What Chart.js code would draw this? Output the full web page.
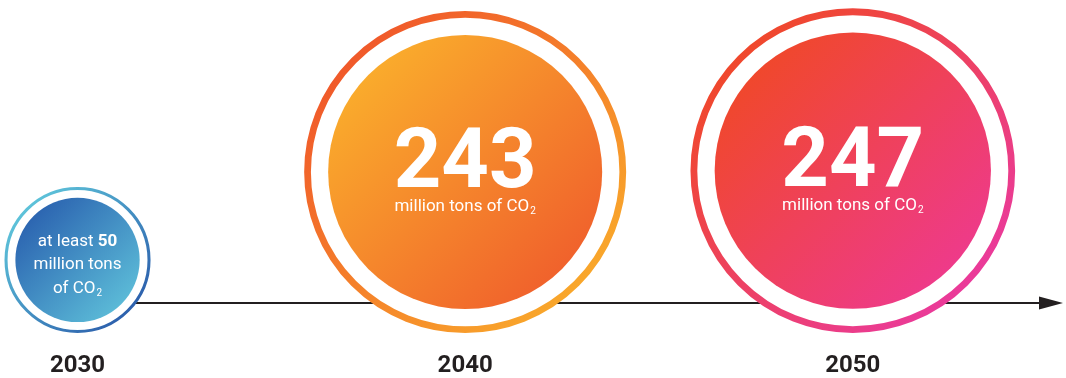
<!DOCTYPE html>
<html>
<head>
<meta charset="utf-8">
<script src="https://cdn.jsdelivr.net/npm/chart.js@4.4.1/dist/chart.umd.min.js"></script>
<style>
  html, body { margin: 0; padding: 0; background: #fff; }
  #wrap { width: 1066px; height: 378px; }
</style>
</head>
<body>
<div id="wrap"><canvas id="timeline"></canvas></div>
<script>
// data
const years = [2030, 2040, 2050];
const values = [50, 243, 247];            // million tons of CO2
const valueLabels = ['50', '243', '247'];

// colours, per circle: [top-left, bottom-right]
const fillColors = [['#2b63b0', '#5cbcd8'], ['#faad2c', '#f0602c'], ['#f0482a', '#ee3a8c']];
const ringColors = [['#5ec4da', '#2c5fac'], ['#f0582a', '#f9a82b'], ['#f0482a', '#ea3a9c']];

const K = 8.79;          // inner radius = K * sqrt(value), area ~ value
const RING = 1.175;      // outer ring radius / inner radius
const LINE_LEVEL = 30;   // timeline height above the circle baseline

function innerR(v) { return K * Math.sqrt(v); }
function outerR(v) { return innerR(v) * RING; }
function ringW(v) { return outerR(v) * 0.042; }

const innerData = years.map((y, i) => ({ x: y, y: outerR(values[i]), r: innerR(values[i]) }));
const ringData = years.map((y, i) => ({ x: y, y: outerR(values[i]), r: outerR(values[i]) - ringW(values[i]) / 2 }));

function grad(context, colors) {
  const raw = context.raw;
  const c = colors[context.dataIndex || 0];
  if (!raw) return c[0];
  const chart = context.chart;
  const x = chart.scales.x.getPixelForValue(raw.x);
  const y = chart.scales.y.getPixelForValue(raw.y);
  if (!isFinite(x) || !isFinite(y)) return c[0];
  const r = raw.r * 0.75;
  const g = chart.ctx.createLinearGradient(x - r, y - r, x + r, y + r);
  g.addColorStop(0, c[0]);
  g.addColorStop(1, c[1]);
  return g;
}

const timelinePlugin = {
  id: 'timeline',
  beforeDatasetsDraw(chart) {
    const ctx = chart.ctx;
    const x0 = chart.scales.x.getPixelForValue(years[0]);
    const x1 = chart.chartArea.right - 3;
    const y = chart.scales.y.getPixelForValue(LINE_LEVEL);
    ctx.save();
    ctx.strokeStyle = '#231f20';
    ctx.lineWidth = 2;
    ctx.beginPath();
    ctx.moveTo(x0, y);
    ctx.lineTo(x1 - 20, y);
    ctx.stroke();
    ctx.fillStyle = '#231f20';
    ctx.beginPath();
    ctx.moveTo(x1, y);
    ctx.lineTo(x1 - 24, y - 6.5);
    ctx.lineTo(x1 - 24, y + 6.5);
    ctx.closePath();
    ctx.fill();
    ctx.restore();
  }
};

function drawCO2(ctx, text, cx, y, size, weight) {
  // "text CO" + subscript 2, centred on cx
  ctx.font = weight + ' ' + size + 'px Roboto';
  const w1 = ctx.measureText(text).width;
  ctx.font = weight + ' ' + Math.round(size * 0.6) + 'px Roboto';
  const w2 = ctx.measureText('2').width;
  const left = cx - (w1 + w2 + 1) / 2;
  ctx.textAlign = 'left';
  ctx.font = weight + ' ' + size + 'px Roboto';
  ctx.fillText(text, left, y);
  ctx.font = weight + ' ' + Math.round(size * 0.6) + 'px Roboto';
  ctx.fillText('2', left + w1 + 1, y + 3);
}

const labelPlugin = {
  id: 'circleLabels',
  afterDatasetsDraw(chart) {
    const ctx = chart.ctx;
    const meta = chart.getDatasetMeta(0);
    ctx.save();
    ctx.fillStyle = '#ffffff';
    ctx.textBaseline = 'alphabetic';
    meta.data.forEach((pt, i) => {
      const cx = pt.x, cy = pt.y;
      if (i === 0) {
        // small circle: three lines
        ctx.font = '400 17px Roboto';
        const a = 'at least ';
        const wa = ctx.measureText(a).width;
        ctx.font = '700 17px Roboto';
        const wb = ctx.measureText(valueLabels[i]).width;
        const left = cx - (wa + wb) / 2;
        ctx.textAlign = 'left';
        ctx.font = '400 17px Roboto';
        ctx.fillText(a, left, cy - 14);
        ctx.font = '700 17px Roboto';
        ctx.fillText(valueLabels[i], left + wa, cy - 14);
        ctx.font = '400 17px Roboto';
        ctx.textAlign = 'center';
        ctx.fillText('million tons', cx, cy + 9.5);
        drawCO2(ctx, 'of CO', cx, cy + 33, 17, 400);
      } else {
        ctx.textAlign = 'center';
        ctx.font = '700 83px Roboto';
        ctx.fillText(valueLabels[i], cx, cy + 15);
        drawCO2(ctx, 'million tons of CO', cx, cy + 39, 17, 400);
      }
    });
    ctx.restore();
  }
};

new Chart(document.getElementById('timeline'), {
  type: 'bubble',
  data: {
    datasets: [
      {
        label: 'value',
        data: innerData,
        backgroundColor: (c) => grad(c, fillColors),
        borderWidth: 0,
        hoverRadius: 0,
        clip: false
      },
      {
        label: 'ring',
        data: ringData,
        backgroundColor: '#ffffff',
        borderColor: (c) => grad(c, ringColors),
        borderWidth: (c) => c.raw ? ringW(values[c.dataIndex]) : 1,
        hoverRadius: 0,
        clip: false
      }
    ]
  },
  options: {
    responsive: true,
    maintainAspectRatio: false,
    animation: false,
    events: [],
    layout: { autoPadding: false, padding: { top: 0, left: 0, right: 0, bottom: -21 } },
    plugins: { legend: { display: false }, tooltip: { enabled: false } },
    scales: {
      x: {
        type: 'linear',
        min: 2028,
        max: 2055.5,
        grid: { display: false, drawTicks: false },
        border: { display: false },
        afterBuildTicks: (axis) => { axis.ticks = years.map(v => ({ value: v })); },
        ticks: {
          padding: 21,
          color: '#231f20',
          font: { family: 'Roboto', size: 24, weight: 'bold', lineHeight: 1 },
          callback: (v) => String(v)
        }
      },
      y: {
        display: false,
        min: 0,
        max: 333
      }
    }
  },
  plugins: [timelinePlugin, labelPlugin]
});
</script>
</body>
</html>
